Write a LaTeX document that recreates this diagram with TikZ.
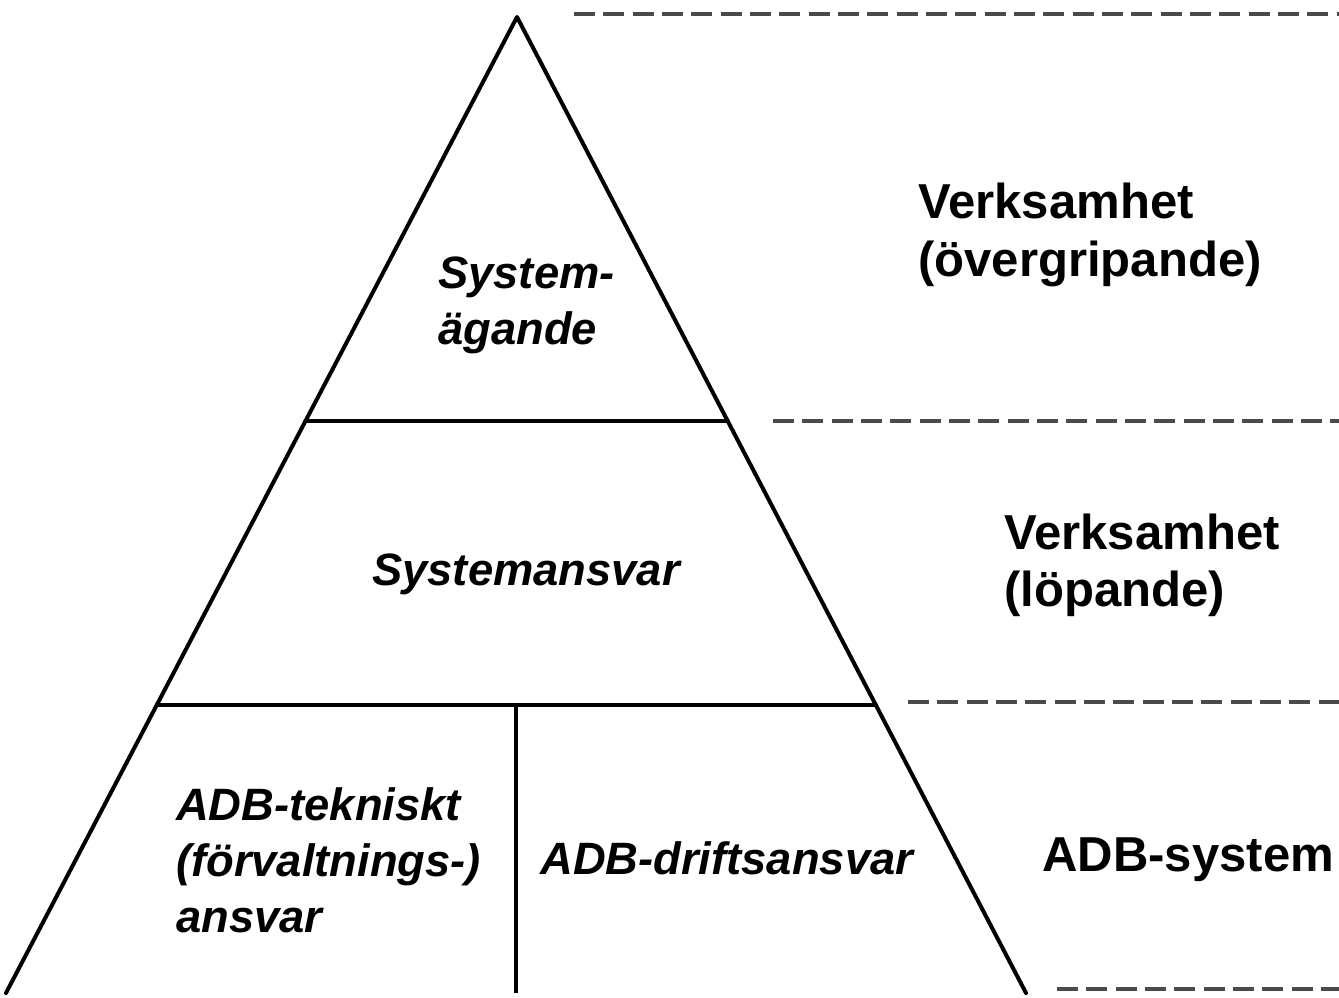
\documentclass[tikz,border=0pt]{standalone}
\usepackage{fontspec}
\setmainfont{Liberation Sans}
\usetikzlibrary{calc}
\begin{document}
\begin{tikzpicture}[x=0.75pt,y=-0.75pt,
    edge/.style={line width=3pt,line cap=round,line join=round},
    sepline/.style={line width=2.3pt,color=sepgray,dash pattern=on 15.75pt off 6.25pt},
    role/.style={inner sep=0pt,align=left,anchor=west,
      font=\fontsize{34}{42}\selectfont\bfseries\itshape},
    tierlabel/.style={inner sep=0pt,align=left,anchor=west,
      font=\fontsize{36.8}{43}\selectfont\bfseries}]
  \definecolor{sepgray}{HTML}{4A4A48}
  \useasboundingbox (0,0) rectangle (1339,998);

  % pyramid outline
  \coordinate (apex) at (517,17);
  \coordinate (bl) at (6,993);
  \coordinate (br) at (1026,993);
  \draw[edge] (bl) -- (apex) -- (br);

  % tier boundaries
  \coordinate (t1l) at ($(apex)!0.414!(bl)$);
  \coordinate (t1r) at ($(apex)!0.414!(br)$);
  \coordinate (t2l) at ($(apex)!0.705!(bl)$);
  \coordinate (t2r) at ($(apex)!0.705!(br)$);
  \draw[edge] (t1l) -- (t1r);
  \draw[edge] (t2l) -- (t2r);
  \coordinate (splittop) at ($(t2l)!0.5!(t2r)$);
  \coordinate (splitbot) at (splittop |- bl);
  \draw[edge,line cap=butt] (splittop) -- (splitbot);

  % level separators on the right
  \coordinate (d0a) at (574,14);   \coordinate (d0b) at (1339,14);
  \coordinate (d1a) at (773,421);  \coordinate (d1b) at (1339,421);
  \coordinate (d2a) at (908,702);  \coordinate (d2b) at (1339,702);
  \coordinate (d3a) at (1057,989); \coordinate (d3b) at (1339,989);
  \draw[sepline] (d0a) -- (d0b);
  \draw[sepline] (d1a) -- (d1b);
  \draw[sepline] (d2a) -- (d2b);
  \draw[sepline] (d3a) -- (d3b);

  % responsibilities inside the pyramid
  \node[role] (agande) at (438,305) {System-\\ägande};
  \node[role] (sysansvar) at (372,574) {Systemansvar};
  \node[role] (teknik) at (176,860) {ADB-tekniskt\\(förvaltnings-)\\ansvar};
  \node[role] (drift) at (540,858) {ADB-driftsansvar};

  % levels
  \node[tierlabel] (overgr) at (918,235) {Verksamhet\\(övergripande)};
  \node[tierlabel] (lopande) at (1004,565) {Verksamhet\\(löpande)};
  \node[tierlabel] (adbsys) at (1042,860) {ADB-system};
\end{tikzpicture}
\end{document}
